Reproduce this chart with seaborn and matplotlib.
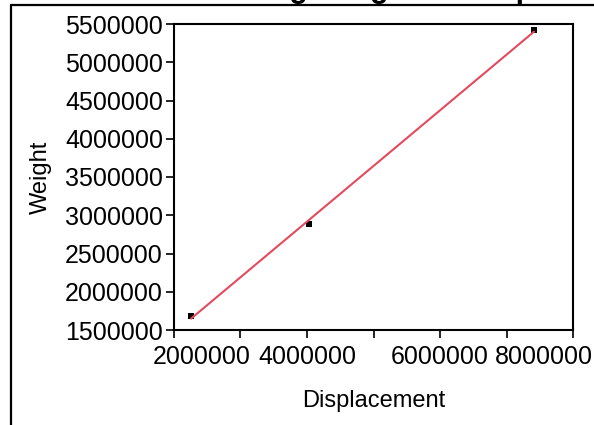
import matplotlib
matplotlib.use("Agg")
import matplotlib.pyplot as plt
import matplotlib.transforms as mtransforms
from matplotlib.lines import Line2D
import numpy as np
import pandas as pd
import seaborn as sns

# Data
displacement = [2256000, 4030000, 7414000]
weight = [1687000, 2880000, 5420000]
x_ticks = [2000000, 3000000, 4000000, 5000000, 6000000, 7000000, 8000000]
x_tick_labels = ["2000000", "", "4000000", "", "6000000", "", "8000000"]
y_ticks = [1500000, 2000000, 2500000, 3000000, 3500000, 4000000, 4500000, 5000000, 5500000]
title = "Modeling Weight vs Displacement"

df = pd.DataFrame({"Displacement": displacement, "Weight": weight})

sns.set_style("ticks")
plt.rcParams["font.family"] = ["Liberation Sans", "DejaVu Sans"]
plt.rcParams["text.color"] = "black"
plt.rcParams["axes.labelcolor"] = "black"

W, H = 594, 425
fig = plt.figure(figsize=(W / 100, H / 100), dpi=100)
ax = fig.add_axes([174 / W, 1 - 330 / H, (573 - 174) / W, (330 - 24) / H])

sns.regplot(
    data=df, x="Displacement", y="Weight", ax=ax, ci=None, truncate=True,
    marker="s",
    scatter_kws=dict(color="black", s=14, linewidths=0, alpha=1),
    line_kws=dict(color="#e34a5e", lw=1.5),
)

ax.set_xlim(2000000, 8000000)
ax.set_ylim(1500000, 5500000)
ax.set_xticks(x_ticks)
ax.set_xticklabels(x_tick_labels)
ax.set_yticks(y_ticks)
ax.set_yticklabels([str(v) for v in y_ticks])

for s in ax.spines.values():
    s.set_visible(True)
    s.set_color("black")
    s.set_linewidth(1.5)

ax.tick_params(axis="both", direction="out", length=6, width=1.2, colors="black",
               labelcolor="black", labelsize=18, top=False, right=False)
ax.tick_params(axis="y", pad=2)
ax.tick_params(axis="x", pad=5)

# keep the end labels inside the view
labels = ax.get_xticklabels()
labels[0].set_transform(labels[0].get_transform() +
                        mtransforms.ScaledTranslation(0.28, 0, fig.dpi_scale_trans))
labels[-1].set_transform(labels[-1].get_transform() +
                         mtransforms.ScaledTranslation(-0.29, 0, fig.dpi_scale_trans))

ax.set_xlabel("Displacement", fontsize=17, labelpad=15, color="black")
ax.set_ylabel("Weight", fontsize=17, labelpad=9, color="black")

# chart frame
fig.add_artist(Line2D([11 / W, 11 / W], [0, 1 - 5 / H], color="black", lw=1.6,
                      transform=fig.transFigure))
fig.add_artist(Line2D([11 / W, 1], [1 - 5 / H, 1 - 5 / H], color="black", lw=1.6,
                      transform=fig.transFigure))

fig.text(420 / W, 1 + 3.5 / H, title, ha="center", va="baseline",
         fontsize=22, fontweight="bold", color="black")

fig.savefig("out.png", dpi=100)
